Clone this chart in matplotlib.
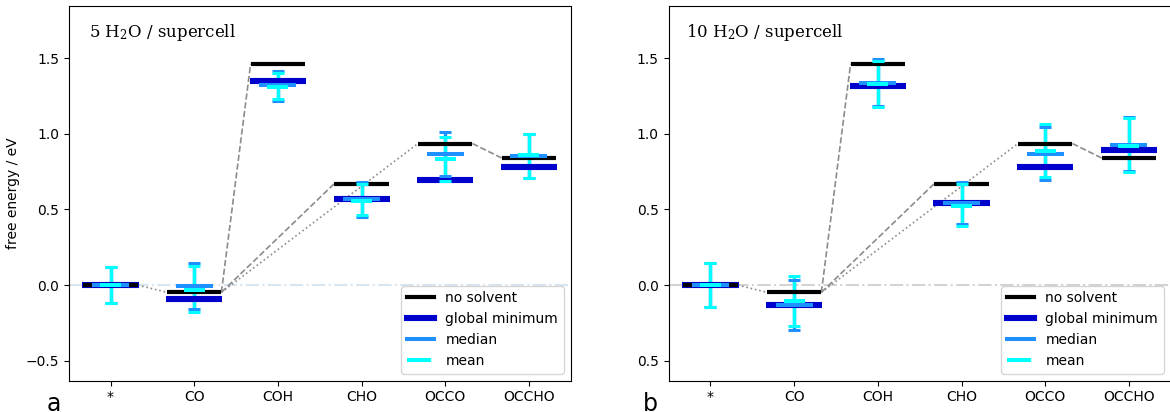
import matplotlib
matplotlib.use("Agg")
import matplotlib.pyplot as plt
from matplotlib.lines import Line2D
from matplotlib.ticker import FixedLocator, FixedFormatter

# ---------------- data ----------------
categories = ['*', 'CO', 'COH', 'CHO', 'OCCO', 'OCCHO']
no_solvent = [0.0, -0.048, 1.464, 0.671, 0.936, 0.840]

# panel a: 5 H2O / supercell
gmin_a = [0.0, -0.093, 1.346, 0.571, 0.697, 0.784]
median_a = [0.0, -0.007, 1.323, 0.571, 0.868, 0.854]
mean_a = [0.0, -0.035, 1.309, 0.556, 0.834, 0.859]
med_hi_a = [0.121, 0.144, 1.416, 0.682, 1.011, 0.998]
med_lo_a = [-0.121, -0.159, 1.214, 0.448, 0.722, 0.707]
mean_hi_a = [0.121, 0.126, 1.400, 0.667, 0.980, 0.998]
mean_lo_a = [-0.121, -0.179, 1.228, 0.464, 0.689, 0.707]

# panel b: 10 H2O / supercell
gmin_b = [0.0, -0.133, 1.314, 0.543, 0.780, 0.892]
median_b = [0.0, -0.133, 1.336, 0.543, 0.869, 0.928]
mean_b = [0.0, -0.106, 1.329, 0.525, 0.889, 0.921]
med_hi_b = [0.147, 0.032, 1.494, 0.684, 1.042, 1.109]
med_lo_b = [-0.145, -0.300, 1.185, 0.405, 0.695, 0.755]
mean_hi_b = [0.147, 0.063, 1.483, 0.669, 1.064, 1.103]
mean_lo_b = [-0.145, -0.273, 1.177, 0.392, 0.717, 0.750]

# pathways between intermediates (from, to, style)
paths = [(0, 1, ':'), (1, 2, '--'), (1, 3, '--'), (1, 4, ':'), (4, 5, '--')]

yticks = [-0.5, 0.0, 0.5, 1.0, 1.5]
yticklabels_a = ['\u22120.5', '0.0', '0.5', '1.0', '1.5']
yticklabels_b = ['0.5', '0.0', '0.5', '1.0', '1.5']

C_GMIN = '#0000cd'
C_MED = '#1e90ff'
C_MEAN = '#00ffff'

DPI = 100
fig = plt.figure(figsize=(11.7, 4.12), dpi=DPI)
ax_a = fig.add_axes([0.0587, 0.0760, 0.4291, 0.9094])
ax_b = fig.add_axes([0.5715, 0.0760, 0.4291, 0.9094])


def hbar(ax, x, y, hw, color, lw, z):
    ax.plot([x - hw, x + hw], [y, y], color=color, lw=lw,
            solid_capstyle='butt', zorder=z)


def errbars(ax, x, y, lo, hi, color, zl, zc):
    eb = ax.errorbar([x], [y], yerr=[[y - lo], [hi - y]], fmt='none',
                     ecolor=color, elinewidth=2.4, capsize=4.3, capthick=2.2)
    for c in eb[1]:
        c.set_zorder(zc)
    for c in eb[2]:
        c.set_zorder(zl)


def panel(ax, gmin, med, mean, mhi, mlo, ahi, alo, title, tx, zero_col, ylabs):
    xs = list(range(len(categories)))
    ax.axhline(0.0, color=zero_col, lw=1.5, ls='-.', zorder=0.5)
    for i, j, st in paths:
        ax.plot([xs[i] + 0.325, xs[j] - 0.325], [no_solvent[i], no_solvent[j]],
                color='#8c8c8c', lw=1.2, ls=st, zorder=1)
    for k, x in enumerate(xs):
        errbars(ax, x, med[k], mlo[k], mhi[k], C_MED, 1.5, 4.0)
        errbars(ax, x, mean[k], alo[k], ahi[k], C_MEAN, 1.6, 4.1)
        hbar(ax, x, gmin[k], 0.335, C_GMIN, 4.4, 2.0)
        hbar(ax, x, no_solvent[k], 0.325, 'black', 3.0, 2.5)
        hbar(ax, x, med[k], 0.22, C_MED, 2.9, 3.0)
        hbar(ax, x, mean[k], 0.125, C_MEAN, 2.9, 3.5)
    ax.set_xlim(-0.5, len(categories) - 0.5)
    ax.set_ylim(-0.632, 1.845)
    ax.set_xticks(xs)
    ax.set_xticklabels(categories, fontsize=10)
    ax.yaxis.set_major_locator(FixedLocator(yticks))
    ax.yaxis.set_major_formatter(FixedFormatter(ylabs))
    ax.tick_params(labelsize=10)
    ax.text(tx, 0.916, title, transform=ax.transAxes, fontsize=12,
            family='DejaVu Serif', va='baseline', ha='left')
    handles = [
        Line2D([], [], color='black', lw=3.0),
        Line2D([], [], color=C_GMIN, lw=4.4),
        Line2D([], [], color=C_MED, lw=2.9),
        Line2D([], [], color=C_MEAN, lw=2.9, ls=(0, (6, 10))),
    ]
    ax.legend(handles, ['no solvent', 'global minimum', 'median', 'mean'],
              loc='lower right', fontsize=10)


plt.rcParams['mathtext.fontset'] = 'dejavuserif'

panel(ax_a, gmin_a, median_a, mean_a, med_hi_a, med_lo_a, mean_hi_a, mean_lo_a,
      r'5 $\mathrm{H_2O}$ / supercell', 0.04, '#d8e6f2', yticklabels_a)
panel(ax_b, gmin_b, median_b, mean_b, med_hi_b, med_lo_b, mean_hi_b, mean_lo_b,
      r'10 $\mathrm{H_2O}$ / supercell', 0.035, '#d3d3d3', yticklabels_b)

ax_a.set_ylabel('free energy / eV', fontsize=10)

fig.text(0.0402, 0.002, 'a', fontsize=17, va='baseline', ha='left')
fig.text(0.5496, 0.002, 'b', fontsize=17, va='baseline', ha='left')

fig.savefig('out.png', dpi=DPI)
